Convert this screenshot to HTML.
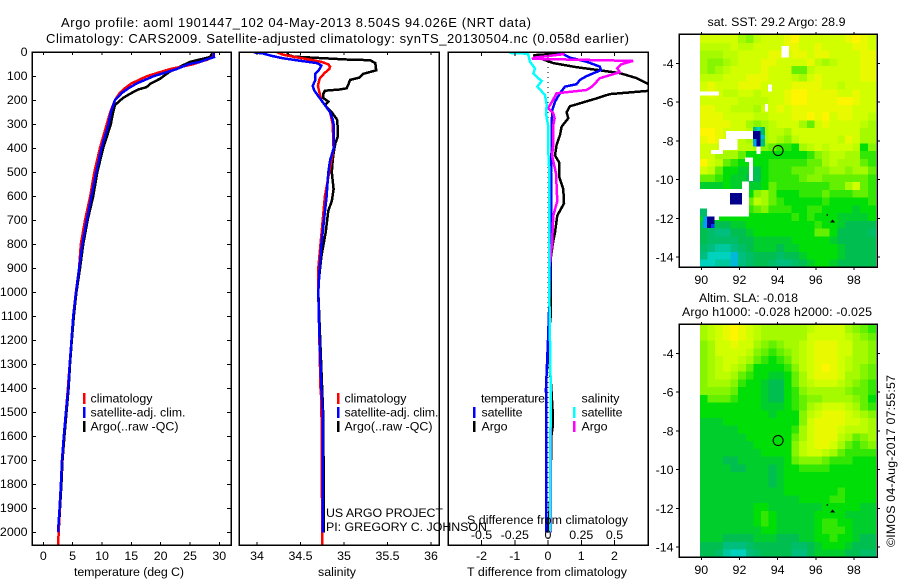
<!DOCTYPE html>
<html lang="en">
<head>
<meta charset="utf-8">
<title>Argo profile 1901447_102</title>
<style>
html,body{margin:0;padding:0;background:#fff;}
svg{display:block;}
text{font-family:"Liberation Sans",sans-serif;font-size:12.4px;fill:#000;}
.big{font-size:13px;}
.frame{fill:none;stroke:#000;stroke-width:1.5;shape-rendering:crispEdges;}
.series{fill:none;stroke-width:2.5;shape-rendering:crispEdges;stroke-linejoin:miter;}
</style>
</head>
<body>
<svg id="chart" xmlns="http://www.w3.org/2000/svg" width="900" height="580" viewBox="0 0 900 580">
<defs>
<clipPath id="clip-temp"><rect x="33" y="53" width="198" height="492"/></clipPath>
<clipPath id="clip-sal"><rect x="240" y="53" width="199" height="492"/></clipPath>
<clipPath id="clip-diff"><rect x="449" y="53" width="199" height="492"/></clipPath>
</defs>
<rect width="900" height="580" fill="#fff"/>

<text class="big" x="61" y="27" textLength="470" lengthAdjust="spacing">Argo profile: aoml 1901447_102 04-May-2013 8.504S 94.026E (NRT data)</text>
<text class="big" x="46" y="43" textLength="583" lengthAdjust="spacing">Climatology: CARS2009. Satellite-adjusted climatology: synTS_20130504.nc (0.058d earlier)</text>

<g id="map-sst"></g>
<g id="map-sla"></g>
<g id="panel-temp"></g>
<g id="panel-sal"></g>
<g id="panel-diff"></g>

<text x="74" y="576" textLength="110" lengthAdjust="spacing">temperature (deg C)</text>
<text x="318" y="576" textLength="38" lengthAdjust="spacing">salinity</text>
<text x="467" y="576" textLength="160" lengthAdjust="spacing">T difference from climatology</text>
<text x="467" y="524" textLength="161" lengthAdjust="spacing">S difference from climatology</text>

<g>
<rect x="83" y="393" width="2.5" height="11" fill="#f00"/>
<text x="90.5" y="402.5" textLength="62" lengthAdjust="spacing">climatology</text>
<rect x="83" y="407" width="2.5" height="11" fill="#00f"/>
<text x="90.5" y="416.5" textLength="95" lengthAdjust="spacing">satellite-adj. clim.</text>
<rect x="83" y="421" width="2.5" height="11" fill="#000"/>
<text x="90.5" y="430.5" textLength="88" lengthAdjust="spacing">Argo(..raw -QC)</text>
</g>
<g>
<rect x="337" y="393" width="2.5" height="11" fill="#f00"/>
<text x="344.5" y="402.5" textLength="62" lengthAdjust="spacing">climatology</text>
<rect x="337" y="407" width="2.5" height="11" fill="#00f"/>
<text x="344.5" y="416.5" textLength="94" lengthAdjust="spacing">satellite-adj. clim.</text>
<rect x="337" y="421" width="2.5" height="11" fill="#000"/>
<text x="344.5" y="430.5" textLength="88" lengthAdjust="spacing">Argo(..raw -QC)</text>
</g>
<g>
<text x="481" y="402.5" textLength="64" lengthAdjust="spacing">temperature</text>
<rect x="473" y="407" width="2.5" height="11" fill="#00f"/>
<text x="481.5" y="416.5" textLength="41" lengthAdjust="spacing">satellite</text>
<rect x="473" y="421" width="2.5" height="11" fill="#000"/>
<text x="481.5" y="430.5" textLength="26" lengthAdjust="spacing">Argo</text>
<text x="581.5" y="402.5" textLength="38" lengthAdjust="spacing">salinity</text>
<rect x="573" y="407" width="2.5" height="11" fill="#0ff"/>
<text x="581.5" y="416.5" textLength="41" lengthAdjust="spacing">satellite</text>
<rect x="573" y="421" width="2.5" height="11" fill="#f0f"/>
<text x="581.5" y="430.5" textLength="26" lengthAdjust="spacing">Argo</text>
</g>

<text x="326" y="517" textLength="117" lengthAdjust="spacing">US ARGO PROJECT</text>
<text x="326" y="531" textLength="161" lengthAdjust="spacing">PI: GREGORY C. JOHNSON</text>

<text x="707.5" y="26" textLength="138" lengthAdjust="spacing">sat. SST: 29.2  Argo: 28.9</text>
<text x="699" y="302" textLength="99" lengthAdjust="spacing">Altim. SLA: -0.018</text>
<text x="682" y="316" textLength="190" lengthAdjust="spacing">Argo h1000: -0.028 h2000: -0.025</text>
<text transform="translate(895,547) rotate(-90)" textLength="172" lengthAdjust="spacing">©IMOS 04-Aug-2017 07:55:57</text>
</svg>

<script>
// ---------- profile data (depth in dbar) ----------
const depthTicks = [0,100,200,300,400,500,600,700,800,900,1000,1100,1200,1300,1400,1500,1600,1700,1800,1900,2000];
const tempTicks = [0,5,10,15,20,25,30];
const salTicks = [34,34.5,35,35.5,36];
const salTickLabels = ['34','34.5','35','35.5','36'];
const tDiffTicks = [-2,-1,0,1,2];
const sDiffTicks = [-0.5,-0.25,0,0.25,0.5];
const sDiffTickLabels = ['-0.5','-0.25','0','0.25','0.5'];

const tempClimDepth = [0,20,30,50,70,100,130,150,170,200,250,300,400,500,600,700,800,900,1000,1100,1200,1300,1400,1500,1600,1700,1800,1900,2000,2053];
const tempClim = [29,28.9,28,25.5,21.6,17.6,15,13.9,13,12.2,11.4,10.8,9.65,8.7,8,7.1,6.4,6.1,5.55,5.1,4.8,4.5,4.2,3.85,3.5,3.2,3,2.8,2.6,2.55];
const tempSatDepth = [0,20,30,40,50,70,100,130,150,170,200,250,300,400,500,600,700,800,900,1000,1100,1200,1300,1400,1500,1600,1700,1800,1900,2000];
const tempSat = [29,29.1,27.8,26.7,24.7,22.7,18.75,15.9,14.5,13.35,12.2,11.5,11.1,9.9,9,8.2,7.4,6.65,6.1,5.57,5.1,4.8,4.5,4.26,3.86,3.5,3.18,3,2.78,2.5];
const tempArgoDepth = [0,20,30,40,60,80,100,110,130,145,155,170,190,220,250,300,400,500,600,700,800,900,1000,1100,1200,1300,1400,1500,1600,1700,1800,1900,2000];
const tempArgo = [28.9,28.4,26.7,25,23.3,21.6,20.45,19.9,18.3,17.6,16.2,15,13.6,12.2,11.9,11.5,10.2,9.2,8.5,7.55,6.8,6.25,5.65,5.2,4.85,4.55,4.32,3.95,3.6,3.28,3.08,2.85,2.6];

const salClimDepth = [0,10,20,30,40,50,60,70,85,110,140,170,200,250,300,400,500,600,700,800,900,1000,1400,1450,2053];
const salClim = [34.23,34.3,34.44,34.6,34.74,34.82,34.84,34.83,34.78,34.72,34.7,34.72,34.74,34.84,34.87,34.88,34.83,34.78,34.755,34.73,34.705,34.705,34.73,34.74,34.75];
const salSatDepth = [0,5,15,25,35,45,55,70,90,115,140,160,190,220,250,280,300,400,450,500,600,700,800,900,1000,1100,1200,1300,1400,1500,2000];
const salSat = [33.96,34.07,34.17,34.3,34.49,34.69,34.74,34.72,34.67,34.67,34.64,34.66,34.72,34.78,34.84,34.87,34.88,34.88,34.84,34.82,34.8,34.77,34.74,34.72,34.705,34.71,34.72,34.73,34.74,34.755,34.755];
const salArgoDepth = [0,10,18,30,33,45,75,90,105,115,135,150,155,160,175,190,205,220,250,280,320,350,380,420,450,500,570,620,660,750,850,950,1000,1500,1900,2000];
const salArgo = [34.35,34.35,34.42,35.03,35.3,35.36,35.37,35.22,35.18,35.07,35.05,35.03,34.95,34.78,34.76,34.76,34.82,34.78,34.86,34.92,34.93,34.93,34.9,34.88,34.87,34.86,34.88,34.86,34.82,34.79,34.74,34.71,34.705,34.76,34.77,34.77];

const tDiffSatDepth = [0,8,22,39,60,74,99,115,133,143,170,206,240,300,390,500,600,800,1000,1200,1400,2000];
const tDiffSat = [0.3,0.46,0.66,1.16,1.56,1.59,1.16,0.96,0.86,0.51,0.36,0.21,0.13,0.11,0.11,0.09,0.09,0.09,0.05,0,-0.06,-0.05];
const tDiffArgoDepth = [0,5,12,25,45,62,75,87,108,136,150,160,174,192,225,250,275,310,345,386,430,460,520,570,630,680,750,800,850,950,1000,1100,1200,1400,1500,1550,1600,1800,1900,2000];
const tDiffArgo = [0.3,0.36,-0.44,-0.24,0.16,0.86,1.56,2.17,2.67,3.07,3.8,3.07,1.86,1.46,0.66,0.56,0.61,0.41,0.36,0.26,0.21,0.34,0.34,0.46,0.48,0.28,0.21,0.14,0.09,0.08,0.08,0.08,0,0.1,0.14,0.15,0.1,0.08,0.05,0];
const sDiffSatDepth = [0,3,6,11,39,67,88,108,119,143,178,219,254,303,386,500,800,1000,1400,2000];
const sDiffSat = [-0.29,-0.28,-0.15,-0.148,-0.135,-0.098,-0.11,-0.073,-0.048,-0.08,-0.023,-0.01,-0.015,0,0,0.01,0.01,0.01,0.02,0.015];
const sDiffArgoDepth = [0,8,22,27,36,50,67,83,108,143,157,171,206,233,254,275,303,386,430,504,620,680,800,900,1000,1400,1500,1900,2000];
const sDiffArgo = [0.12,0.115,-0.1,-0.12,0.64,0.55,0.52,0.54,0.39,0.33,0.29,0.065,0.03,0,0.04,0.05,0.04,0.04,0.03,0.06,0.07,0.04,0.03,0.01,0.01,0.02,0.02,0.02,0.02];

// ---------- map data (colour level per 0.4 degree cell, north to south) ----------
const mapLonTicks = [90,92,94,96,98];
const mapLatTicks = [-4,-6,-8,-10,-12,-14];
const floatLon = 94.026;
const floatLat = -8.504;
const islandLon = [96.88,96.6];
const islandLat = [-12.14,-11.83];

const sstLevels = [
[8,8,8,8,8,7,6.5,7.5,8,8,8,8.5,9,8,8,8,8,8,8,8.5,9,8.5,8],
[7.5,7.5,7.5,7.5,8,7.5,7.5,8,8,8,8,8.5,8.5,8,8,8.5,8,8,8,8,8.5,8.5,8],
[7,7,7,7.5,7.5,8,8,8,8,8.5,8.5,8,8.5,8.5,8,8.5,8.5,8,8,8,8,8.5,8.5],
[7,6.5,6.5,7,7.5,8,8,8,8.5,8.5,8,8,8,8,8.5,7.5,7,7.5,8,8,8,8.5,8.5],
[7,6.5,7,7.5,8,8,8,8,8.5,8,8,8,6,6,7.5,8,8,8,8,8,8,8.5,8.5],
[7.5,7.5,7.5,8,8,8,8.5,8.5,8.5,8,8,8,7.5,7,8,8.5,8,8,8,8,8,8.5,8.5],
[8,8.5,8,8,8,8.5,8.5,8.5,8,8,8,8,8.5,8.5,8.5,8.5,8,8,7.5,8,8,8,8],
[8,8.5,8,7.5,7.5,8,8,7.5,8,8,8,8.5,9,9,8.5,8.5,8.5,8.5,8,8,8.5,8,8],
[8,8,8,8,8,7.5,7.5,7.5,7.5,8,8,8.5,9,9,8.5,8.5,8.5,8.5,9,9,8.5,8,8],
[8.5,8.5,8,8,7.5,7.5,7.5,7,8,8,8.5,8,8.5,8.5,8.5,8.5,8.5,8.5,8.5,8.5,8,8,8],
[8.5,8.5,8.5,8,8,8,8,7.5,7.5,8,8,8,8.5,8.5,9,8.5,9,8,8.5,8.5,8,8,7.5],
[8.5,8.5,8.5,8.5,8,8,7,6.5,7,7.5,8,8,8,7,6,8,8.5,8,8,8,8,7.5,7],
[9,9,8.5,8,8,8,7.5,7,7,7.5,7.5,7,8,8,8,8,8,8,8,8,8,7,7],
[8.5,9,8.5,8,8,7.5,7,7,7,7.5,7,6.5,7.5,8,8,8,8,8,7.5,8.5,8,7,7],
[8,8,8,7.5,7.5,7.5,7.5,7,6.5,6,5.5,5.5,5,7,7.5,8,7.5,8,8,8,7.5,5,6.5],
[8,8,7,7,7,6,5,5,5,5,5,5,5,5,5.5,6.5,7,7.5,7.5,7,7,5.5,5.5],
[9,8,7.5,6,5.5,5,5,5,5,5.5,5.5,5.5,5.5,5.5,6,6,7,7.5,7,7,7,6,5.5],
[8,7.5,6,5,5,4.5,4.5,4,5,5.5,5.5,5.5,6,6,6,6.5,6.5,7,7,6.5,7,7,6],
[6,6,5.5,5,4.5,4.5,4,4,5,5.5,5.5,5.5,5.5,6,6.5,6.5,6,6,6,6,6,6,5.5],
[4.5,4.5,4.5,5,4.5,4.5,4.5,4.5,5,6,5.5,5.5,5.5,5.5,5.5,5.5,5.5,6,6,7,8,6,5.5],
[5,5,5,5,5,5,5,6.5,7,6,5,5,5,5.5,5.5,5.5,6,5.5,5.5,5.5,6,6,5.5],
[5,5,5,5,5,5,6,7.5,7,6,5.5,5,5,5,5,5,5.5,5,5,5,5,5,5.5],
[5,5,5,5,5,5,5.5,6,6.5,5.5,5.5,5.5,5,5,5.5,5.5,5,5,5,5,4.5,5,5],
[5,5,5,5,5,5,5,5,5,5,5,5,5.5,5,5.5,5,5,5,4.5,4.5,4.5,4.5,5],
[4,3.5,4,4,4.5,4.5,5,5,5,5,5,5,5,5,5,5.5,5,5,4.5,4,4,4,4],
[4,3.5,3,3,4,4,4.5,5,5,5,5,5,5,5,5,6,6,5,4,4,4,4,3.5],
[4,3.5,3.5,3.5,3.5,4,4,4.5,4.5,4.5,4.5,4.5,5,5,5,5,5,4.5,4,4,4,4,4],
[3.5,3,2.5,2.5,3,3.5,4,4.5,4.5,4.5,4,4.5,4.5,5,5,5,5,5,4.5,4,4,4,4],
[3,2,2,2,1.5,3,3.5,4,4,4,3.5,4,4,4.5,5,5,5,5,4.5,4,4,4,4],
[2,2,2.5,2.5,1.5,3,3.5,4,4,3.5,3,3,3.5,4,4.5,5,5,4.5,4,4,4,4,4]
];

const slaLevels = [
[7,7.5,8,8.5,9,8.5,8,7.5,7,7,7,7,7,7,7.5,8,8,8,8,7,6.5,6,5.5],
[7,7.5,8,8.5,9,8.5,8,7.5,7,7,7,7,7,7,8,8,8,8,8,7.5,7,6.5,6],
[6.5,7,8,8,8.5,8,8,7,6.5,6,6.5,7,7,7.5,8,8.5,8.5,8.5,8,8,7,7,6.5],
[6.5,7,8,8,8,8,7.5,6.5,6,5.5,6,6.5,7,7.5,8,8.5,8.5,8.5,8,8,7,7,6.5],
[6.5,7,7.5,8,8,7.5,7,6,5.5,5,5.5,6,7,7.5,8,8.5,8.5,8.5,8,7.5,7,7,6.5],
[6.5,7,7.5,8,7.5,7,6,5,5,5,5,5.5,6.5,7.5,8,8.5,9,8.5,8,7.5,7,6.5,6],
[6.5,7,7.5,7.5,7,6,5.5,5,5,4.5,4.5,5,6,7,8,8.5,8.5,8.5,8,7,7,6.5,6],
[6.5,7,7,7,6.5,5.5,5,5,4.5,4,4,5,6,7,7.5,8,8,8,7.5,7,6.5,6,5.5],
[6.5,6.5,6.5,6.5,6,5,5,5,4.5,4,4,5,5.5,6.5,7,7,7,7,7,6.5,6,6,5.5],
[5,6,6,6,5.5,5,5,5,4.5,4,4,5,5.5,6,6.5,6.5,7,7,7,7,6.5,6,5],
[5,5,5,5,5,5,5,5,4.5,4.5,4.5,5,5.5,6,7,7.5,8,8,8,7.5,7,6,5.5],
[5,5,5,5,5,5,5,5,5,4.5,5,5,5,6.5,7.5,8,8.5,8.5,8.5,8,7.5,7,6.5],
[4.5,4.5,4.5,5,5,5,5,5,5,5,5,5,5,6.5,8,8.5,8.5,8.5,8.5,8,8,7.5,7],
[4.5,4.5,4.5,4.5,4.5,5,5,5,5,5,5,5,5.5,7,8,8.5,8.5,8.5,8,7.5,7.5,7.5,7],
[4.5,4.5,4.5,4.5,4.5,4.5,5,5,5,5,5,5,6,7,8,8.5,8.5,8.5,7.5,7,6,6.5,7],
[4.5,4.5,4.5,4.5,4.5,4.5,4.5,5,5,5,5,5,6.5,7.5,8,8.5,8.5,8,7,6,5.5,6,6.5],
[4.5,4.5,4.5,4.5,4.5,4.5,4.5,4.5,5,5,5,5,6.5,7.5,8,8,7.5,7,6,5.5,5.5,5.5,5.5],
[4.5,4.5,4.5,4,4,4.5,4.5,4.5,4.5,4.5,4.5,5,6,6.5,6.5,6.5,6,5.5,5.5,5.5,5,5,5],
[4.5,4.5,4.5,4.5,4,4,4.5,4.5,4.5,4,4.5,5,5,5.5,5.5,5.5,5.5,5,5,5,5,5,5],
[4.5,4.5,4.5,4.5,4.5,4.5,4.5,4.5,4.5,4,4.5,5,5,5,5,5,5,5,5,5,5,5,5],
[4.5,4.5,4.5,4.5,4.5,4.5,4.5,4.5,4.5,4,4.5,5,5,5,5,5,5,5,5,5,5,5,5],
[4.5,4.5,4.5,4.5,4.5,4.5,4.5,4.5,4.5,4.5,4.5,5,5,5,5,5,5,5,5.5,5,5,5,5],
[4.5,4.5,4.5,4.5,4.5,4.5,4.5,4.5,4.5,4.5,4.5,4.5,4.5,5,5,5,5,5.5,5.5,5,5,5,5],
[4.5,4.5,4.5,4.5,4.5,4.5,4.5,5,5,4.5,4.5,4.5,4.5,4.5,4.5,4.5,5,5,5,5,5,4.5,4.5],
[4.5,4.5,4.5,4.5,4.5,4.5,4.5,5,5.5,5,4.5,4.5,4.5,4.5,4.5,5,5,5,5,4.5,4.5,4.5,4.5],
[4.5,4.5,4.5,4.5,4.5,4.5,4.5,5,5.5,5,4.5,4.5,4.5,4.5,4.5,5,5.5,5.5,5,5,4.5,4.5,4.5],
[4.5,4.5,4.5,4.5,4.5,4.5,4.5,4.5,5,5,4.5,4.5,4.5,4.5,4.5,5,5.5,5.5,5.5,5,4.5,4.5,4.5],
[4.5,4.5,4.5,4,4,4,4,4.5,4.5,4.5,4,4,4,4.5,4.5,5,5,5.5,5,5,4.5,4,4],
[4,4,4,3,3,3,3.5,4,4,4,4,4,3.5,3.5,4,4.5,5,5,5,4.5,4,4,4],
[4,4,3.5,2.5,2,2,3,3.5,4,4,4,4,3,3,4,4.5,4.5,4.5,4.5,4,4,3.5,3.5]
];

// missing-data areas: lon west, lon east, lat north, lat south
const sstMissing = [
[94.2,94.6,-3.1,-3.7],
[93.5,93.7,-5.1,-5.45],
[89.93,90.93,-5.45,-5.65],
[93.33,93.5,-6.1,-6.5],
[91.3,92.72,-7.5,-7.9],
[90.93,91.9,-7.9,-8.47],
[90.5,91.15,-8.47,-8.68],
[92.9,93.1,-8.3,-8.68],
[92.3,92.72,-8.87,-9.1],
[92.5,92.72,-9.1,-10.07],
[92.13,92.5,-10.1,-10.5],
[89.93,92.5,-10.5,-11.5],
[90.3,92.5,-11.5,-11.9],
[90.3,90.93,-11.9,-12.1]
];
// fine anomalies: lon west, lon east, lat north, lat south, level
const sstAnomaly = [
[91.5,92.13,-10.7,-11.3,0],
[92.7,92.9,-7.5,-7.9,0],
[92.9,93.13,-7.5,-8.3,0],
[92.7,92.9,-7.9,-8.3,1],
[93.1,93.33,-7.7,-7.9,1.5],
[92.7,92.9,-7.3,-7.5,3],
[92.9,93.1,-7.3,-7.5,2],
[93.1,93.33,-7.3,-7.7,3.5],
[93.1,93.33,-7.9,-8.3,3],
[89.93,90.3,-11.5,-11.9,3.5],
[90.1,90.3,-11.9,-12.5,1],
[90.3,90.7,-11.9,-12.5,0],
[90.5,90.7,-12.3,-12.5,0.5]
];

// ---------- scales ----------
const depthY = d => 52.3 + d * 0.24;
const tempX = v => 43.3 + v * 5.867;
const salX = v => 257 + (v - 34) * 87;
const tDiffX = v => 548 + v * 33.25;
const sDiffX = v => 548 + v * 133;
const mapLonX = lon => 701.3 + (lon - 90) * 19.08;
const mapLatY = (lat, top) => top + 29.3 + (-4 - lat) * 19.37;

const NS = 'http://www.w3.org/2000/svg';
function make(tag, parent, attrs) {
  const el = document.createElementNS(NS, tag);
  Object.keys(attrs).forEach(k => el.setAttribute(k, attrs[k]));
  parent.appendChild(el);
  return el;
}

function levelColor(level) {
  const stops = [[0,0,0,140],[0.5,0,60,240],[1,0,160,240],[2,0,210,190],[3,0,190,125],[4,0,190,80],[5,0,222,8],[6,100,240,0],[7,165,250,0],[8,210,255,0],[9,255,245,0],[10,255,200,0]];
  let i = 0;
  while (i < stops.length - 2 && level > stops[i + 1][0]) i++;
  const a = stops[i], b = stops[i + 1];
  const t = Math.max(0, Math.min(1, (level - a[0]) / (b[0] - a[0])));
  return 'rgb(' + [1,2,3].map(c => Math.round(a[c] + (b[c] - a[c]) * t)).join(',') + ')';
}

// ---------- profile panels ----------
function drawLine(group, name, depths, values, xFn, color, clip) {
  const pts = depths.map((d, i) => xFn(values[i]).toFixed(1) + ',' + depthY(d).toFixed(1)).join(' ');
  const line = make('polyline', group, {points: pts, stroke: color, 'clip-path': 'url(#' + clip + ')'});
  line.setAttribute('class', 'series');
  
  
}

function drawFrame(group, left, right, top, bottom, name) {
  const r = make('rect', group, {x: left, y: top, width: right - left, height: bottom - top});
  r.setAttribute('class', 'frame');
  
  
}

function tickLine(group, x1, y1, x2, y2) {
  const t = make('line', group, {x1: x1, y1: y1, x2: x2, y2: y2, stroke: '#000', 'stroke-width': 1, 'shape-rendering': 'crispEdges'});
  
  
}

function tickText(group, x, y, str, anchor) {
  const t = make('text', group, {x: x, y: y, 'text-anchor': anchor});
  t.textContent = str;
  
  
}

const PT = 52, PB = 545;
const gTemp = document.getElementById('panel-temp');
const gSal = document.getElementById('panel-sal');
const gDiff = document.getElementById('panel-diff');

drawLine(gTemp, 'temperature-argo-line', tempArgoDepth, tempArgo, tempX, '#000', 'clip-temp');
drawLine(gTemp, 'temperature-climatology-line', tempClimDepth, tempClim, tempX, '#f00', 'clip-temp');
drawLine(gTemp, 'temperature-satellite-line', tempSatDepth, tempSat, tempX, '#00f', 'clip-temp');
drawFrame(gTemp, 32, 231, PT, PB, 'temperature-plot-frame');
depthTicks.forEach(d => {
  tickLine(gTemp, 32, depthY(d), 36, depthY(d));
  tickLine(gTemp, 227, depthY(d), 231, depthY(d));
  tickText(gTemp, 27.5, depthY(d) + 3.8, String(d), 'end');
});
tempTicks.forEach(v => {
  tickLine(gTemp, tempX(v), PT, tempX(v), PT + 3);
  tickLine(gTemp, tempX(v), PB, tempX(v), PB - 3);
  tickText(gTemp, tempX(v), 560, String(v), 'middle');
});

drawLine(gSal, 'salinity-argo-line', salArgoDepth, salArgo, salX, '#000', 'clip-sal');
drawLine(gSal, 'salinity-climatology-line', salClimDepth, salClim, salX, '#f00', 'clip-sal');
drawLine(gSal, 'salinity-satellite-line', salSatDepth, salSat, salX, '#00f', 'clip-sal');
drawFrame(gSal, 239, 439, PT, PB, 'salinity-plot-frame');
salTicks.forEach((v, i) => {
  tickLine(gSal, salX(v), PT, salX(v), PT + 3);
  tickLine(gSal, salX(v), PB, salX(v), PB - 3);
  tickText(gSal, salX(v), 560, salTickLabels[i], 'middle');
});

const zeroLine = make('line', gDiff, {x1: tDiffX(0), y1: PT, x2: tDiffX(0), y2: PB, stroke: '#000', 'stroke-width': 1, 'stroke-dasharray': '1 4', 'shape-rendering': 'crispEdges'});


drawLine(gDiff, 't-difference-argo-line', tDiffArgoDepth, tDiffArgo, tDiffX, '#000', 'clip-diff');
drawLine(gDiff, 't-difference-satellite-line', tDiffSatDepth, tDiffSat, tDiffX, '#00f', 'clip-diff');
drawLine(gDiff, 's-difference-argo-line', sDiffArgoDepth, sDiffArgo, sDiffX, '#f0f', 'clip-diff');
drawLine(gDiff, 's-difference-satellite-line', sDiffSatDepth, sDiffSat, sDiffX, '#0ff', 'clip-diff');
drawFrame(gDiff, 448, 648, PT, PB, 'difference-plot-frame');
tDiffTicks.forEach(v => {
  tickLine(gDiff, tDiffX(v), PT, tDiffX(v), PT + 4);
  tickLine(gDiff, tDiffX(v), PB, tDiffX(v), PB - 5);
  tickText(gDiff, tDiffX(v), 560, String(v), 'middle');
});
sDiffTicks.forEach((v, i) => {
  tickText(gDiff, sDiffX(v), 539, sDiffTickLabels[i], 'middle');
});

// ---------- maps ----------
function drawMap(group, levels, top, missing, anomaly) {
  const lon0 = 89.93, lat0 = -2.54, step = 0.4;
  levels.forEach((row, r) => {
    row.forEach((level, c) => {
      const x0 = mapLonX(lon0 + c * step), x1 = mapLonX(lon0 + (c + 1) * step);
      const y0 = mapLatY(lat0 - r * step, top), y1 = Math.min(mapLatY(lat0 - (r + 1) * step, top), top + 232);
      const cell = make('rect', group, {x: x0.toFixed(2), y: y0.toFixed(2), width: Math.min(x1 - x0 + 0.6, 878 - x0).toFixed(2), height: (y1 - y0 + 0.6).toFixed(2), fill: levelColor(level), 'shape-rendering': 'crispEdges'});
      
      
    });
  });
  missing.forEach(m => {
    const p = make('rect', group, {x: mapLonX(m[0]), y: mapLatY(m[2], top), width: mapLonX(m[1]) - mapLonX(m[0]), height: mapLatY(m[3], top) - mapLatY(m[2], top), fill: '#fff', 'shape-rendering': 'crispEdges'});
    
    
  });
  anomaly.forEach(m => {
    const p = make('rect', group, {x: mapLonX(m[0]), y: mapLatY(m[2], top), width: mapLonX(m[1]) - mapLonX(m[0]), height: mapLatY(m[3], top) - mapLatY(m[2], top), fill: levelColor(m[4]), 'shape-rendering': 'crispEdges'});
    
    
  });
  islandLon.forEach((lon, i) => {
    const ix = mapLonX(lon), iy = mapLatY(islandLat[i], top);
    const isl = make('path', group, {d: i === 0 ? 'M' + (ix - 2.5) + ' ' + (iy + 1.5) + 'l2.5 -3l2.5 3z' : 'M' + (ix - 0.5) + ' ' + (iy - 1) + 'h1v2h-1z', fill: '#000'});
    
    
  });
  const ring = make('circle', group, {cx: mapLonX(floatLon), cy: mapLatY(floatLat, top), r: 5, fill: 'none', stroke: '#000', 'stroke-width': 1});
  
  
  drawFrame(group, 679, 877, top, top + 233, 'map-frame');
  mapLonTicks.forEach(lon => {
    tickLine(group, mapLonX(lon), top, mapLonX(lon), top - 2);
    tickLine(group, mapLonX(lon), top + 233, mapLonX(lon), top + 236);
    tickText(group, mapLonX(lon), top + 250, String(lon), 'middle');
  });
  mapLatTicks.forEach(lat => {
    tickLine(group, 679, mapLatY(lat, top), 676, mapLatY(lat, top));
    tickLine(group, 877, mapLatY(lat, top), 880, mapLatY(lat, top));
    tickText(group, 673.5, mapLatY(lat, top) + 4.5, String(lat), 'end');
  });
}
drawMap(document.getElementById('map-sst'), sstLevels, 34, sstMissing, sstAnomaly);
drawMap(document.getElementById('map-sla'), slaLevels, 324, [], []);
</script>
</body>
</html>
